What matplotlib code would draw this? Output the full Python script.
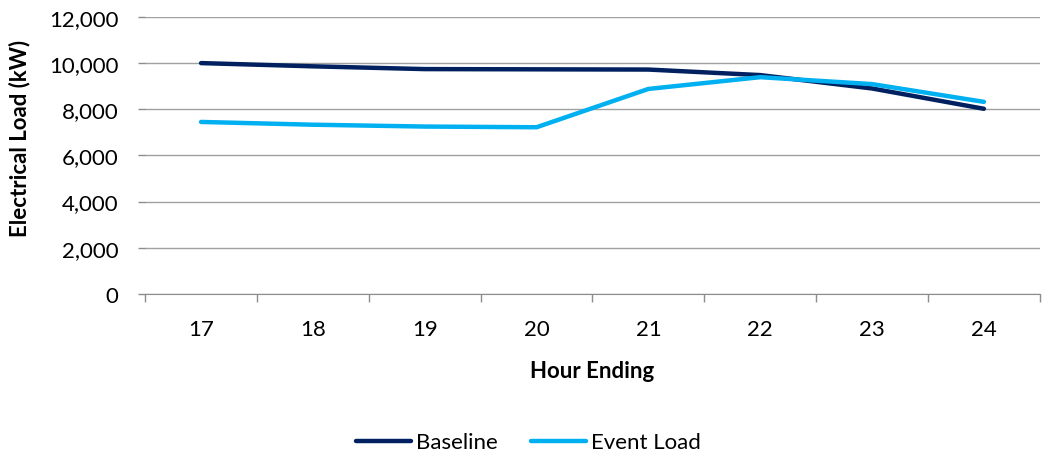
import matplotlib
matplotlib.use("Agg")
import matplotlib.pyplot as plt
import numpy as np

hours = ["17", "18", "19", "20", "21", "22", "23", "24"]
baseline = [10000, 9860, 9740, 9730, 9720, 9480, 8900, 8020]
event_load = [7450, 7330, 7250, 7220, 8880, 9390, 9090, 8320]
y_ticks = [0, 2000, 4000, 6000, 8000, 10000, 12000]

plt.rcParams['font.family'] = ['Lato', 'DejaVu Sans']
FS = 16

fig = plt.figure(figsize=(10.44, 4.6), dpi=100)
ax = fig.add_axes([0.139, 0.359, 0.857, 0.602])

x = np.arange(len(hours))
ax.plot(x, baseline, color="#002060", lw=3.2, solid_capstyle="round", label="Baseline", zorder=3)
ax.plot(x, event_load, color="#00B0F0", lw=3.2, solid_capstyle="round", label="Event Load", zorder=3)

ax.set_xlim(-0.5, len(hours) - 0.5)
ax.set_ylim(0, 12000)
ax.set_yticks(y_ticks)
ax.set_yticklabels([f"{v:,}" for v in y_ticks], fontsize=FS)
ax.set_xticks(x)
ax.set_xticklabels(hours, fontsize=FS)
ax.set_xticks(np.arange(len(hours) + 1) - 0.5, minor=True)
ax.tick_params(axis="x", which="major", length=0, pad=18)
ax.tick_params(axis="x", which="minor", length=6, color="#8c8c8c", width=1)
ax.tick_params(axis="y", length=5, color="#8c8c8c", width=1, pad=14)

ax.grid(axis="y", color="#a0a0a0", lw=1)
ax.set_axisbelow(True)
for s in ["top", "right", "left"]:
    ax.spines[s].set_visible(False)
ax.spines["bottom"].set_color("#8c8c8c")

ax.set_xlabel("Hour Ending", fontsize=FS, fontweight="bold", labelpad=15)
fig.text(20 / 1044, 1 - 138 / 460, "Electrical Load (kW)", fontsize=FS, fontweight="bold",
         rotation=90, ha="center", va="center")

fig.legend(loc="center", bbox_to_anchor=(0.506, 0.036), ncol=2, frameon=False,
           fontsize=FS, handlelength=2.5, handletextpad=0.2, columnspacing=1.5)

fig.savefig("out.png", dpi=100)
